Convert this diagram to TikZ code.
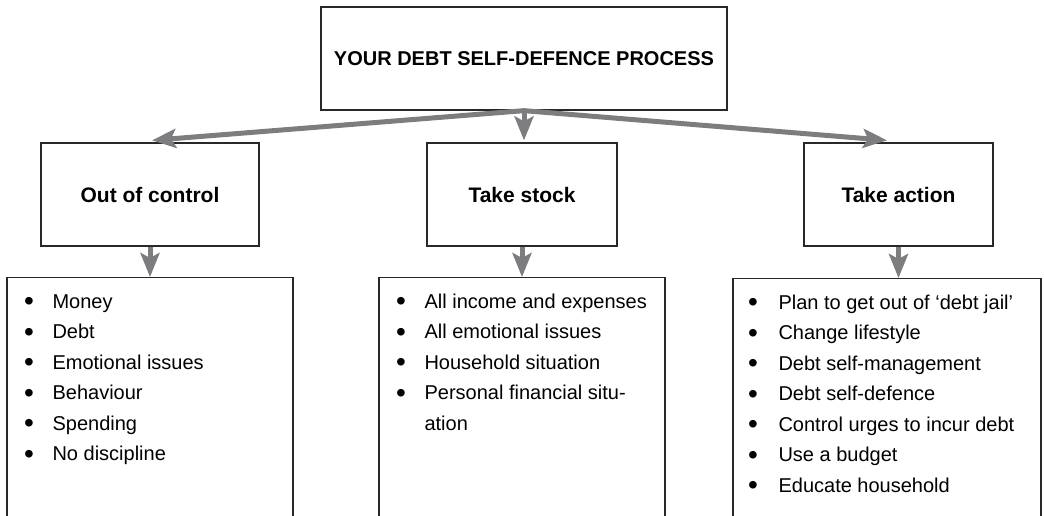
\documentclass[tikz,border=0pt]{standalone}
\usepackage{fontspec}
\setmainfont{Liberation Sans}
\usepackage{tikz}
\usetikzlibrary{arrows.meta, positioning, calc}
\definecolor{boxline}{RGB}{40,40,40}
\definecolor{arrgray}{RGB}{125,125,128}
\tikzset{
  hdbox/.style={draw=boxline, line width=1.3pt, minimum width=#1,
                minimum height=103pt, inner sep=0pt, align=center,
                font=\fontsize{21}{24}\selectfont\bfseries},
  lstbox/.style={draw=boxline, line width=1.3pt, minimum width=#1,
                 minimum height=260pt, inner sep=0pt, anchor=north},
  items/.style={anchor=north west, inner sep=0pt,
                font=\fontsize{20}{30.5}\selectfont},
  arr/.style={-{Stealth[length=24pt, width=19pt, inset=5pt]},
              line width=5pt, draw=arrgray},
}
\newcommand{\bul}{\raisebox{-2.4pt}{\scalebox{1.4}{\textbullet}} &}

\begin{document}
\begin{tikzpicture}[x=1pt, y=-1pt]
      \useasboundingbox (0,0) rectangle (1044,515);
      \clip (0,0) rectangle (1044,515);

      % ── process and the three steps ─────────────────────────
      \node[hdbox=406pt, font=\fontsize{20}{24}\selectfont\bfseries]
        (proc) at (524,58.5) {YOUR DEBT SELF-DEFENCE PROCESS};
      \node[hdbox=218pt] (ooc)   at (150,194.5)   {Out of control};
      \node[hdbox=190pt] (stock) at (522,194.5)   {Take stock};
      \node[hdbox=189pt] (act)   at (898.5,194.5) {Take action};

      % ── lists (open at the bottom) ──────────────────────────
      \node[lstbox=286pt] (lst1) at (150,277) {};
      \node[lstbox=286pt] (lst2) at (522,277) {};
      \node[lstbox=308pt] (lst3) at (887,278) {};

      \node[items] (itm1) at ([xshift=17.5pt, yshift=-9.6pt]lst1.north west) {%
        \begin{tabular}{@{}p{28.5pt}@{}l@{}}
          \bul Money\\ \bul Debt\\ \bul Emotional issues\\
          \bul Behaviour\\ \bul Spending\\ \bul No discipline
        \end{tabular}};
      \node[items] (itm2) at ([xshift=17.5pt, yshift=-9.6pt]lst2.north west) {%
        \begin{tabular}{@{}p{28.5pt}@{}l@{}}
          \bul All income and expenses\\ \bul All emotional issues\\
          \bul Household situation\\ \bul Personal financial situ-\\ & ation
        \end{tabular}};
      \node[items] (itm3) at ([xshift=15.5pt, yshift=-9.6pt]lst3.north west) {%
        \begin{tabular}{@{}p{30.5pt}@{}l@{}}
          \bul Plan to get out of `debt jail'\\ \bul Change lifestyle\\
          \bul Debt self-management\\ \bul Debt self-defence\\
          \bul Control urges to incur debt\\ \bul Use a budget\\
          \bul Educate household
        \end{tabular}};

      % ── arrows ──────────────────────────────────────────────
      \draw[arr] (proc.south) -- ([xshift=2pt, yshift=2pt]ooc.north);
      \draw[arr] (proc.south) -- ([yshift=2pt]proc.south |- stock.north);
      \draw[arr] (proc.south) -- ([xshift=-11.5pt, yshift=2pt]act.north);
      \foreach \a/\b in {ooc/lst1, stock/lst2, act/lst3}
        \draw[arr] (\a.south) -- (\a.south |- \b.north);
    \end{tikzpicture}
\end{document}
